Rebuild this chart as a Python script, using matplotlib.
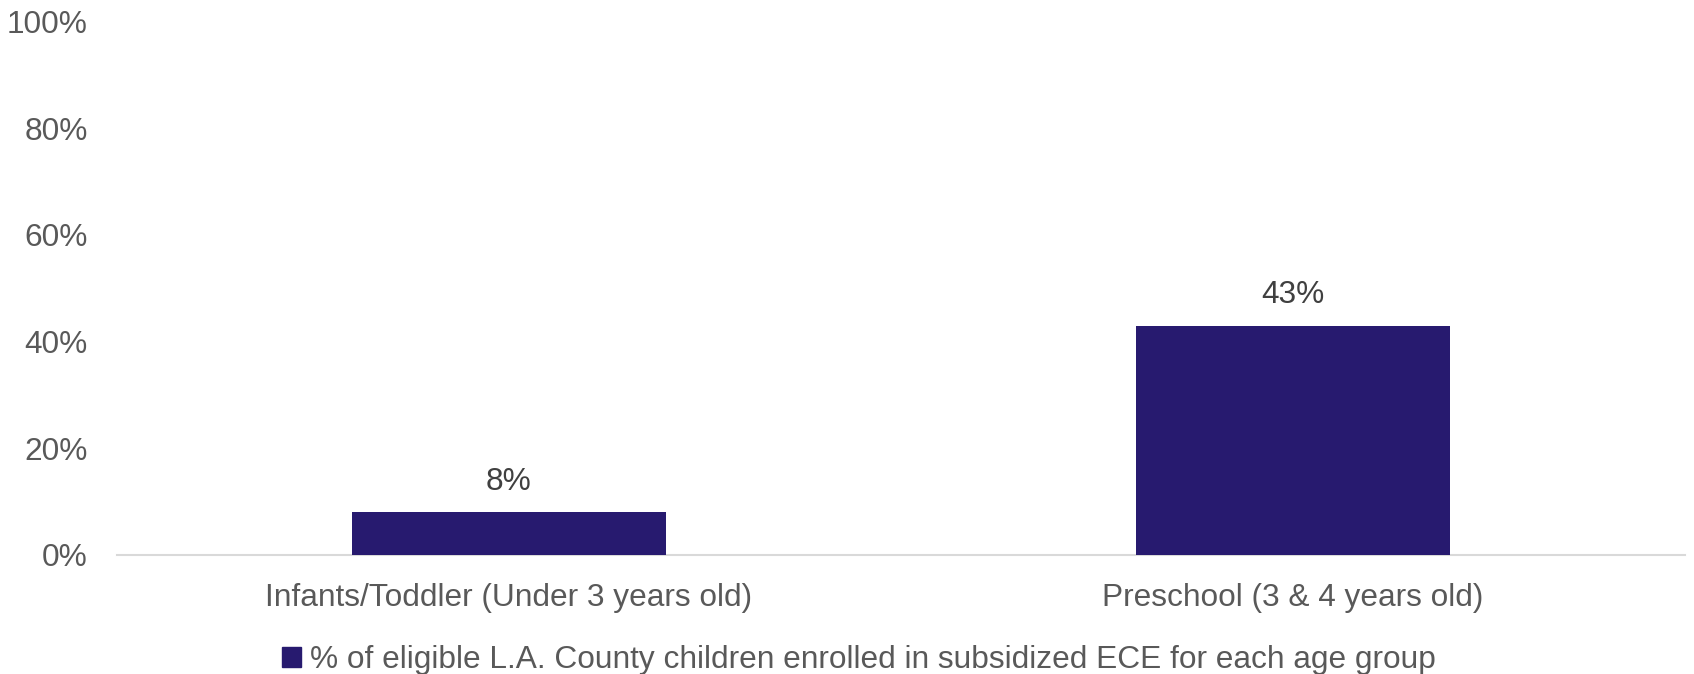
import matplotlib.pyplot as plt
from matplotlib.patches import Patch
from matplotlib.ticker import FuncFormatter

plt.rcParams['font.family'] = ['Liberation Sans', 'DejaVu Sans']

# data
categories = ['Infants/Toddler (Under 3 years old)', 'Preschool (3 & 4 years old)']
shares = [8, 43]
series_name = '% of eligible L.A. County children enrolled in subsidized ECE for each age group'
y_ticks = [0, 20, 40, 60, 80, 100]

bar_color = '#271A6F'
text_color = '#595959'
fs = 22.8

fig = plt.figure(figsize=(16.94, 6.74), dpi=100)
ax = fig.add_axes([0.069, 0.1766, 0.9257, 0.7914])

x = range(len(categories))
bars = ax.bar(x, shares, width=0.4, color=bar_color, zorder=3)

for b, v in zip(bars, shares):
    ax.annotate(f'{v}%', (b.get_x() + b.get_width() / 2, v),
                xytext=(0, 22), textcoords='offset points',
                ha='center', va='center', fontsize=fs, color='#404040')

ax.set_xlim(-0.5, 1.5)
ax.set_ylim(0, 100)
ax.set_yticks(y_ticks)
ax.yaxis.set_major_formatter(FuncFormatter(lambda v, p: f'{v:.0f}%'))
ax.set_xticks(list(x))
ax.set_xticklabels(categories)

for s in ['top', 'right', 'left']:
    ax.spines[s].set_visible(False)
ax.spines['bottom'].set_color('#D9D9D9')
ax.spines['bottom'].set_linewidth(1.5)

ax.tick_params(axis='y', length=0, pad=21, labelsize=fs, labelcolor=text_color)
ax.tick_params(axis='x', length=0, pad=20, labelsize=fs, labelcolor=text_color)

handle = Patch(facecolor=bar_color, edgecolor=bar_color)
fig.legend([handle], [series_name], loc='center', bbox_to_anchor=(0.507, 0.021),
           frameon=False, fontsize=fs, labelcolor=text_color,
           handlelength=0.6, handleheight=0.6, handletextpad=0.3)

fig.savefig('out.png', dpi=100)
